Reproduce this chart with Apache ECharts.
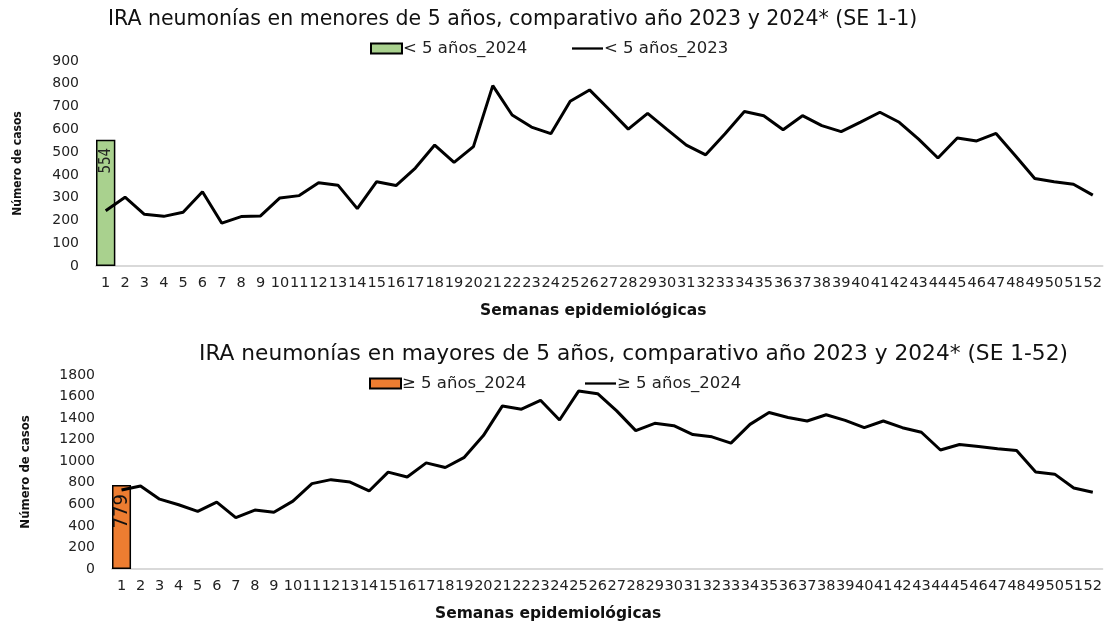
<!DOCTYPE html>
<html>
<head>
<meta charset="utf-8">
<script src="https://cdn.jsdelivr.net/npm/echarts@6/dist/echarts.min.js"></script>
<style>
  html, body { margin: 0; padding: 0; background: #fff; }
  #chart { width: 1105px; height: 623px; }
</style>
</head>
<body>
<div id="chart"></div>
<script>
// semanas epidemiologicas 1..52
const weeks = []
for (let i = 1; i <= 52; i++) { weeks.push(String(i)) }

// < 5 años
const menores2024 = [554]
const menores2023 = [243, 302, 227, 218, 236, 326, 188, 217, 220, 299,
  309, 365, 355, 252, 370, 353, 430, 531, 455, 524,
  792, 663, 610, 581, 723, 773, 688, 601, 670, 600,
  531, 488, 581, 678, 660, 598, 660, 616, 590, 632,
  675, 631, 557, 474, 562, 549, 582, 484, 384, 370,
  359, 311]

// >= 5 años
const mayores2024 = [779]
const mayoresLinea = [733, 770, 648, 596, 535, 621, 477, 547, 526, 630,
  792, 829, 807, 724, 899, 853, 985, 942, 1036, 1238,
  1513, 1483, 1565, 1382, 1651, 1627, 1467, 1284, 1352, 1330,
  1247, 1226, 1168, 1342, 1452, 1406, 1373, 1431, 1379, 1311,
  1373, 1311, 1269, 1104, 1155, 1137, 1116, 1100, 899, 880,
  752, 712]

const FONT = 'DejaVu Sans'
const NARROW = '"DejaVu Sans Condensed", "Liberation Sans"'

function xAxisCfg (gridIndex, namePad) {
  return {
    type: 'category',
    gridIndex: gridIndex,
    data: weeks,
    axisLine: { lineStyle: { color: '#d9d9d9', width: 2 } },
    axisTick: { show: false },
    axisLabel: { interval: 0, color: '#222', fontFamily: FONT, fontSize: 14.5, margin: 10 },
    name: 'Semanas epidemiológicas',
    nameLocation: 'middle',
    nameGap: 37,
    nameTextStyle: { fontFamily: FONT, fontWeight: 'bold', fontSize: 15.5, color: '#111', padding: namePad }
  }
}

function yAxisCfg (gridIndex, max, interval, nameSize, nameGap) {
  return {
    type: 'value',
    gridIndex: gridIndex,
    min: 0,
    max: max,
    interval: interval,
    splitLine: { show: false },
    axisLine: { show: false },
    axisTick: { show: false },
    axisLabel: {
      color: '#222', fontFamily: FONT, fontSize: 14, margin: 17,
      formatter: (v) => String(v)
    },
    name: 'Número de casos',
    nameLocation: 'middle',
    nameRotate: 90,
    nameGap: nameGap,
    nameTextStyle: { fontFamily: NARROW, fontWeight: 'bold', fontSize: nameSize, color: '#111' }
  }
}

function legendCfg (name, left, top, icon) {
  return {
    data: [name],
    left: left,
    top: top,
    icon: icon,
    itemWidth: 31,
    itemHeight: 10,
    itemGap: 0,
    textStyle: { fontFamily: FONT, fontSize: 16.5, color: '#222', padding: [0, 0, 0, -4] }
  }
}

const LINE_ICON = 'path://M0,4 L30,4 L30,6.2 L0,6.2 Z'

const chart = echarts.init(document.getElementById('chart'))
chart.setOption({
  animation: false,
  title: [{
    text: 'IRA neumonías en menores de 5 años, comparativo año 2023 y 2024* (SE 1-1)',
    left: 103,
    top: 4,
    textStyle: { fontFamily: FONT, fontWeight: 'normal', fontSize: 20.5, color: '#111' }
  }, {
    text: 'IRA neumonías en mayores de 5 años, comparativo año 2023 y 2024* (SE 1-52)',
    left: 194,
    top: 338,
    textStyle: { fontFamily: FONT, fontWeight: 'normal', fontSize: 21.7, color: '#111' }
  }],
  legend: [
    legendCfg('< 5 años_2024', 365, 35, 'rect'),
    legendCfg('< 5 años_2023', 567, 35, LINE_ICON),
    legendCfg('≥ 5 años_2024', 364, 370, 'rect'),
    legendCfg('≥ 5 años_2024 ', 580, 370, LINE_ICON)
  ],
  grid: [
    { left: 96, right: 0, top: 61, height: 205 },
    { left: 112, right: 0, top: 375, height: 196 }
  ],
  xAxis: [xAxisCfg(0, [0, 12, 0, 0]), xAxisCfg(1, [0, 118, 0, 0])],
  yAxis: [
    yAxisCfg(0, 900, 100, 12, 72),
    yAxisCfg(1, 1800, 200, 13, 80)
  ],
  series: [{
    name: '< 5 años_2024',
    type: 'bar',
    xAxisIndex: 0,
    yAxisIndex: 0,
    data: menores2024,
    barCategoryGap: '0%',
    itemStyle: { color: '#a9d18e', borderColor: '#000', borderWidth: 1.5 },
    label: {
      show: true, position: 'insideTop', rotate: 90, distance: 8,
      fontFamily: NARROW, fontSize: 15, color: '#222', align: 'right', verticalAlign: 'middle'
    }
  }, {
    name: '< 5 años_2023',
    type: 'line',
    xAxisIndex: 0,
    yAxisIndex: 0,
    data: menores2023,
    showSymbol: false,
    symbol: 'none',
    lineStyle: { color: '#000', width: 3 },
    itemStyle: { color: '#000' }
  }, {
    name: '≥ 5 años_2024',
    type: 'bar',
    xAxisIndex: 1,
    yAxisIndex: 1,
    data: mayores2024,
    barCategoryGap: '0%',
    itemStyle: { color: '#ed7d31', borderColor: '#000', borderWidth: 1.5 },
    label: {
      show: true, position: 'insideTop', rotate: 90, distance: 9,
      fontFamily: NARROW, fontSize: 20, color: '#111', align: 'right', verticalAlign: 'middle'
    }
  }, {
    name: '≥ 5 años_2024 ',
    type: 'line',
    xAxisIndex: 1,
    yAxisIndex: 1,
    data: mayoresLinea,
    showSymbol: false,
    symbol: 'none',
    lineStyle: { color: '#000', width: 3 },
    itemStyle: { color: '#000' }
  }]
})
</script>
</body>
</html>
